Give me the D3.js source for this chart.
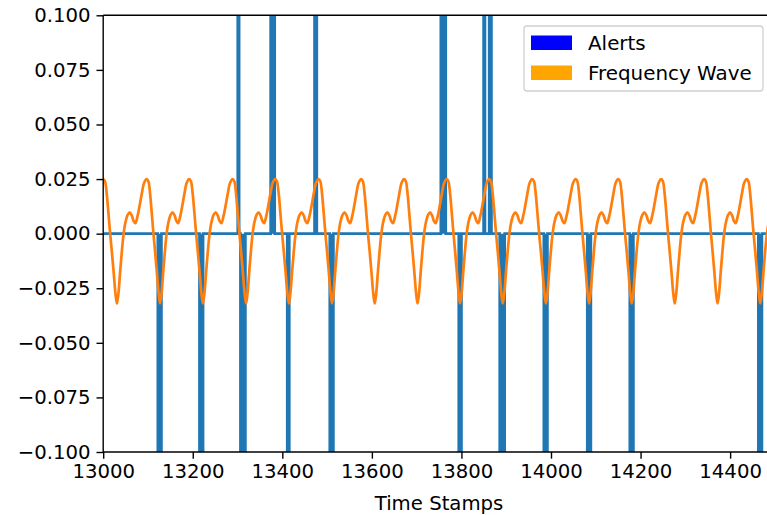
<!DOCTYPE html>
<html>
<head>
<meta charset="utf-8">
<script src="https://cdn.jsdelivr.net/npm/d3@7"></script>
<style>
  html, body { margin: 0; padding: 0; background: #fff; overflow: hidden; }
  text { font-family: "DejaVu Sans", sans-serif; fill: #000; }
</style>
</head>
<body>
<svg id="chart" width="767" height="515"></svg>
<script>
// ---------------- data ----------------
const xTicks = [13000, 13200, 13400, 13600, 13800, 14000, 14200, 14400];
const yTicks = [-0.100, -0.075, -0.050, -0.025, 0.000, 0.025, 0.050, 0.075, 0.100];
const xDomain = [13000, 14500];
const yDomain = [-0.1, 0.1];

// Alerts: runs of off-scale values (start, end, level)
const alertStart = [13122, 13215, 13300.5, 13306.5, 13374, 13411, 13472, 13506, 13754, 13794, 13849.5, 13862, 13885.5, 13984, 14081, 14176, 14463];
const alertEnd   = [13130, 13223, 13303.5, 13317.5, 13383, 13415.5, 13477, 13514, 13765, 13800, 13852.5, 13867, 13896.5, 13992, 14089, 14184, 14471];
const alertLevel = [-1, -1, 1, -1, 1, -1, 1, -1, 1, -1, 1, 1, -1, -1, -1, -1, -1];

// Frequency wave: main-peak time stamps
const wavePeaks = [13000, 13097, 13192, 13289, 13384, 13481, 13576, 13672, 13767, 13862, 13958, 14055, 14150, 14246, 14342, 14437, 14533];
// one cycle's shape (fraction of cycle, value)
const cyclePhase = [0.00, 0.04, 0.08, 0.12, 0.16, 0.20, 0.24, 0.28, 0.315, 0.35, 0.39, 0.43, 0.47, 0.51, 0.56, 0.61, 0.66, 0.70, 0.74, 0.79, 0.84, 0.89, 0.94];
const cycleValue = [0.0250, 0.0240, 0.0185, 0.0095, 0.0000, -0.0085, -0.0175, -0.0270, -0.0320, -0.0275, -0.0175, -0.0080, 0.0000, 0.0050, 0.0085, 0.0098, 0.0082, 0.0058, 0.0048, 0.0080, 0.0130, 0.0185, 0.0232];

const legendLabels = ["Alerts", "Frequency Wave"];
const legendColors = ["#0000ff", "#ffa500"];

// ---------------- layout ----------------
const svg = d3.select("#chart");
const mLeft = 103.2, mTop = 15.3, mBottom = 452;
const pxPerUnit = 0.4478;
const mRight = mLeft + (xDomain[1] - xDomain[0]) * pxPerUnit;
const fontPx = 19.7;

const x = d3.scaleLinear().domain(xDomain).range([mLeft, mRight]);
const y = d3.scaleLinear().domain(yDomain).range([mBottom, mTop]);

svg.append("defs").append("clipPath").attr("id", "clip")
  .append("rect").attr("x", mLeft).attr("y", mTop)
  .attr("width", mRight - mLeft).attr("height", mBottom - mTop);

const plot = svg.append("g").attr("clip-path", "url(#clip)");

// Alerts series points
const alertPts = [[xDomain[0], 0]];
alertStart.forEach((s, i) => {
  alertPts.push([s, 0], [s, alertLevel[i]], [alertEnd[i], alertLevel[i]], [alertEnd[i], 0]);
});
alertPts.push([xDomain[1], 0]);

plot.append("path")
  .datum(alertPts)
  .attr("fill", "#1f77b4")
  .attr("d", d3.area().x(d => x(d[0])).y0(y(0)).y1(d => y(d[1])));
plot.append("path")
  .datum(alertPts)
  .attr("fill", "none")
  .attr("stroke", "#1f77b4")
  .attr("stroke-width", 2.7)
  .attr("stroke-linejoin", "miter")
  .attr("d", d3.line().x(d => x(d[0])).y(d => y(d[1])));

// Frequency wave points: cycle shape placed between successive peaks
const wavePts = [];
for (let k = 0; k < wavePeaks.length - 1; k++) {
  const t0 = wavePeaks[k], t1 = wavePeaks[k + 1];
  cyclePhase.forEach((p, j) => wavePts.push([t0 + p * (t1 - t0), cycleValue[j]]));
}
wavePts.push([wavePeaks[wavePeaks.length - 1], cycleValue[0]]);

plot.append("path")
  .datum(wavePts)
  .attr("fill", "none")
  .attr("stroke", "#ff7f0e")
  .attr("stroke-width", 2.7)
  .attr("stroke-linejoin", "round")
  .attr("d", d3.line().x(d => x(d[0])).y(d => y(d[1])).curve(d3.curveCatmullRom.alpha(0.5)));

// ---------------- axes ----------------
const fmtY = d => d3.format(".3f")(d).replace("-", "\u2212");
const xAxis = svg.append("g").attr("transform", `translate(0,${mBottom})`)
  .call(d3.axisBottom(x).tickValues(xTicks).tickFormat(d3.format("d")).tickSize(6.7).tickPadding(5));
const yAxis = svg.append("g").attr("transform", `translate(${mLeft},0)`)
  .call(d3.axisLeft(y).tickValues(yTicks).tickFormat(fmtY).tickSize(6.7).tickPadding(6));

[xAxis, yAxis].forEach(g => {
  g.select(".domain").remove();
  g.selectAll(".tick line").attr("stroke", "#000").attr("stroke-width", 1.4);
  g.selectAll(".tick text").attr("font-size", fontPx).attr("fill", "#000")
    .attr("font-family", "DejaVu Sans, sans-serif");
});

// spines
const sp = svg.append("g").attr("stroke", "#000").attr("stroke-width", 1.4).attr("fill", "none");
sp.append("line").attr("x1", mLeft).attr("x2", mLeft).attr("y1", mTop).attr("y2", mBottom);
sp.append("line").attr("x1", mLeft).attr("x2", mRight).attr("y1", mBottom).attr("y2", mBottom);
sp.append("line").attr("x1", mLeft).attr("x2", mRight).attr("y1", mTop).attr("y2", mTop);
sp.append("line").attr("x1", mRight).attr("x2", mRight).attr("y1", mTop).attr("y2", mBottom);

// x label
svg.append("text")
  .attr("x", (mLeft + mRight) / 2).attr("y", 509.5)
  .attr("text-anchor", "middle").attr("font-size", fontPx)
  .text("Time Stamps");

// ---------------- legend ----------------
const lg = svg.append("g");
lg.append("rect").attr("x", 524).attr("y", 26).attr("width", 239).attr("height", 65)
  .attr("rx", 3).attr("fill", "#fff").attr("fill-opacity", 0.8)
  .attr("stroke", "#d0d0d0").attr("stroke-width", 1.3);
legendLabels.forEach((lab, i) => {
  const cy = 43 + i * 30;
  lg.append("rect").attr("x", 531).attr("y", cy - 7.5).attr("width", 41).attr("height", 14.5)
    .attr("fill", legendColors[i]);
  lg.append("text").attr("x", 588).attr("y", cy).attr("dy", "0.36em")
    .attr("font-size", 19.9).text(lab);
});
</script>
</body>
</html>
